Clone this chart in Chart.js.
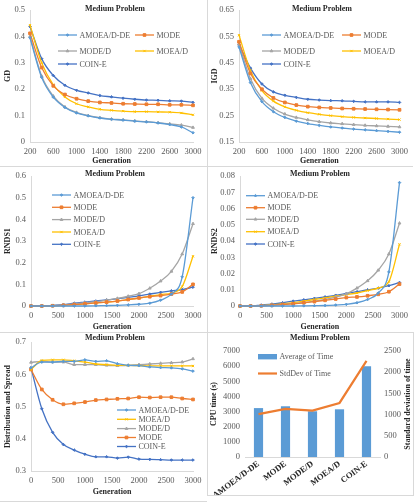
<!DOCTYPE html>
<html>
<head>
<meta charset="utf-8">
<script src="https://cdn.jsdelivr.net/npm/chart.js@4.4.0/dist/chart.umd.min.js"></script>
<style>
  html, body { margin: 0; padding: 0; background: #fff; }
  body { width: 417px; height: 502px; position: relative; overflow: hidden; }
  canvas { position: absolute; display: block; }
  .ln { position: absolute; background: #d9d9d9; }
</style>
</head>
<body>

<canvas id="cGD"    width="207" height="166" style="left:0;top:0"></canvas>
<canvas id="cIGD"   width="206" height="166" style="left:207px;top:0"></canvas>
<canvas id="cR1"    width="207" height="166" style="left:0;top:166px"></canvas>
<canvas id="cR2"    width="206" height="166" style="left:207px;top:166px"></canvas>
<canvas id="cDS"    width="207" height="169" style="left:0;top:332px"></canvas>
<canvas id="cCPU"   width="213" height="163" style="left:200px;top:332px"></canvas>

<div class="ln" style="left:207px;top:0;width:1px;height:495px"></div>
<div class="ln" style="left:0;top:166px;width:413px;height:1px"></div>
<div class="ln" style="left:0;top:332px;width:413px;height:1px"></div>
<div class="ln" style="left:413px;top:332px;width:1px;height:164px"></div>
<div class="ln" style="left:207px;top:495px;width:207px;height:1px"></div>
<div class="ln" style="left:0;top:501px;width:207px;height:1px"></div>

<script>
/* ------------------------------------------------------------
   Data
------------------------------------------------------------ */
var algos = ['AMOEA/D-DE', 'MODE', 'MODE/D', 'MOEA/D', 'COIN-E'];

var gensFrom200 = [200, 400, 600, 800, 1000, 1200, 1400, 1600, 1800, 2000, 2200, 2400, 2600, 2800, 3000];
var gensFrom0   = [0, 200, 400, 600, 800, 1000, 1200, 1400, 1600, 1800, 2000, 2200, 2400, 2600, 2800, 3000];

// GD
var gdAmoea = [0.395, 0.245, 0.170, 0.131, 0.110, 0.099, 0.091, 0.086, 0.083, 0.079, 0.076, 0.072, 0.066, 0.057, 0.035];
var gdMode  = [0.412, 0.282, 0.213, 0.180, 0.164, 0.155, 0.150, 0.148, 0.145, 0.144, 0.143, 0.143, 0.141, 0.141, 0.139];
var gdModeD = [0.400, 0.250, 0.174, 0.133, 0.112, 0.100, 0.092, 0.087, 0.084, 0.080, 0.077, 0.073, 0.069, 0.064, 0.055];
var gdMoead = [0.443, 0.300, 0.217, 0.171, 0.145, 0.133, 0.124, 0.120, 0.117, 0.115, 0.115, 0.114, 0.113, 0.110, 0.103];
var gdCoin  = [0.438, 0.316, 0.252, 0.215, 0.196, 0.186, 0.176, 0.171, 0.166, 0.162, 0.159, 0.158, 0.156, 0.155, 0.150];

// IGD
var igdAmoea = [0.510, 0.375, 0.303, 0.265, 0.243, 0.229, 0.220, 0.213, 0.207, 0.203, 0.199, 0.196, 0.193, 0.190, 0.187];
var igdMode  = [0.530, 0.410, 0.350, 0.317, 0.300, 0.290, 0.284, 0.281, 0.279, 0.277, 0.276, 0.275, 0.274, 0.273, 0.272];
var igdModeD = [0.520, 0.390, 0.315, 0.278, 0.256, 0.243, 0.234, 0.227, 0.222, 0.219, 0.216, 0.213, 0.211, 0.209, 0.207];
var igdMoead = [0.555, 0.420, 0.345, 0.305, 0.283, 0.270, 0.261, 0.255, 0.250, 0.246, 0.243, 0.241, 0.239, 0.237, 0.235];
var igdCoin  = [0.520, 0.430, 0.370, 0.340, 0.327, 0.319, 0.312, 0.309, 0.307, 0.306, 0.304, 0.302, 0.302, 0.302, 0.300];

// RNDS1
var r1Amoea = [0, 0, 0, 0, 0, 0, 0.001, 0.002, 0.003, 0.005, 0.008, 0.013, 0.027, 0.055, 0.135, 0.500];
var r1Mode  = [0, 0, 0.001, 0.003, 0.006, 0.010, 0.014, 0.018, 0.023, 0.030, 0.037, 0.043, 0.048, 0.055, 0.065, 0.100];
var r1ModeD = [0, 0, 0.002, 0.005, 0.010, 0.015, 0.020, 0.027, 0.035, 0.045, 0.057, 0.082, 0.115, 0.160, 0.240, 0.380];
var r1Moead = [0, 0, 0.001, 0.003, 0.006, 0.010, 0.014, 0.018, 0.023, 0.030, 0.037, 0.045, 0.053, 0.060, 0.090, 0.230];
var r1Coin  = [0, 0, 0.003, 0.007, 0.013, 0.018, 0.023, 0.028, 0.033, 0.040, 0.047, 0.055, 0.063, 0.070, 0.076, 0.087];

// RNDS2
var r2Amoea = [0, 0, 0, 0, 0, 0, 0.0001, 0.0002, 0.0003, 0.0006, 0.0010, 0.0020, 0.0040, 0.0080, 0.0210, 0.0760];
var r2Mode  = [0, 0, 0.0001, 0.0004, 0.0008, 0.0013, 0.0020, 0.0027, 0.0035, 0.0043, 0.0052, 0.0056, 0.0063, 0.0072, 0.0088, 0.0135];
var r2ModeD = [0, 0, 0.0002, 0.0006, 0.0010, 0.0015, 0.0020, 0.0030, 0.0040, 0.0055, 0.0075, 0.0110, 0.0155, 0.0220, 0.0320, 0.0510];
var r2Moead = [0, 0, 0.0002, 0.0007, 0.0013, 0.0020, 0.0030, 0.0040, 0.0050, 0.0060, 0.0070, 0.0080, 0.0095, 0.0110, 0.0150, 0.0380];
var r2Coin  = [0, 0, 0.0006, 0.0012, 0.0020, 0.0030, 0.0038, 0.0047, 0.0056, 0.0066, 0.0077, 0.0088, 0.0100, 0.0110, 0.0125, 0.0145];

// Distribution and Spread
var dsAmoea = [0.620, 0.638, 0.638, 0.640, 0.640, 0.645, 0.640, 0.642, 0.633, 0.628, 0.627, 0.623, 0.621, 0.620, 0.617, 0.610];
var dsMoead = [0.615, 0.643, 0.645, 0.645, 0.642, 0.638, 0.632, 0.630, 0.628, 0.628, 0.627, 0.626, 0.626, 0.626, 0.626, 0.626];
var dsModeD = [0.637, 0.640, 0.638, 0.638, 0.630, 0.630, 0.630, 0.628, 0.627, 0.628, 0.630, 0.632, 0.634, 0.636, 0.638, 0.648];
var dsMode  = [0.615, 0.553, 0.521, 0.507, 0.510, 0.514, 0.520, 0.522, 0.524, 0.525, 0.529, 0.528, 0.529, 0.529, 0.525, 0.522];
var dsCoin  = [0.620, 0.493, 0.420, 0.382, 0.365, 0.352, 0.344, 0.344, 0.340, 0.343, 0.337, 0.336, 0.335, 0.334, 0.334, 0.334];

// CPU time
var cpuAvg = [3230, 3350, 3020, 3150, 5990];
var cpuStd = [1010, 1135, 1095, 1275, 2265];


/* ------------------------------------------------------------
   Shared styles
------------------------------------------------------------ */
var FONT  = '"Liberation Serif", "Times New Roman", serif';
var TEXT  = '#595959';
var DARK  = '#262626';
var AXIS  = '#d9d9d9';

var SERIES = {
  'AMOEA/D-DE': { color: '#5B9BD5', pointStyle: 'rectRot',  r: 1.3 },
  'MODE':       { color: '#ED7D31', pointStyle: 'rect',     r: 1.9 },
  'MODE/D':     { color: '#A5A5A5', pointStyle: 'triangle', r: 1.6 },
  'MOEA/D':     { color: '#FFC000', pointStyle: 'crossRot', r: 1.6 },
  'COIN-E':     { color: '#4472C4', pointStyle: 'rectRot',  r: 1.3 }
};

function pts(xs, ys) {
  return ys.map(function (y, i) { return { x: xs[i], y: y }; });
}

function lineSet(name, xs, ys) {
  var s = SERIES[name];
  return {
    label: name,
    data: pts(xs, ys),
    borderColor: s.color,
    backgroundColor: s.color,
    borderWidth: 1.3,
    pointStyle: s.pointStyle,
    pointRadius: s.r,
    pointBorderWidth: 1,
    pointBorderColor: s.color,
    pointBackgroundColor: s.color,
    cubicInterpolationMode: 'monotone',
    clip: false
  };
}


/* ------------------------------------------------------------
   Overlay plugin: panel title, in-plot legend, right title
------------------------------------------------------------ */
var overlay = {
  id: 'overlay',
  afterDraw: function (chart, args, opts) {
    var ctx = chart.ctx;
    ctx.save();
    ctx.textBaseline = 'middle';

    if (opts.title) {
      ctx.font = 'bold 8px ' + FONT;
      ctx.fillStyle = DARK;
      ctx.textAlign = 'center';
      ctx.fillText('Medium Problem', opts.title.x, opts.title.y);
    }

    (opts.legend || []).forEach(function (it) {
      var ds = chart.data.datasets[it.i];
      var x2 = it.x + 19;
      if (ds.type === 'bar') {
        ctx.fillStyle = ds.backgroundColor;
        ctx.fillRect(it.x, it.y - 2.7, 19, 5.4);
      } else {
        ctx.strokeStyle = ds.borderColor;
        ctx.lineWidth = ds.borderWidth;
        ctx.beginPath();
        ctx.moveTo(it.x, it.y);
        ctx.lineTo(x2, it.y);
        ctx.stroke();
        if (ds.pointRadius) {
          ctx.fillStyle = ds.borderColor;
          ctx.lineWidth = 1;
          Chart.helpers.drawPoint(ctx, {
            pointStyle: ds.pointStyle, radius: ds.pointRadius,
            rotation: 0, borderWidth: 1
          }, (it.x + x2) / 2, it.y);
        }
      }
      ctx.font = '8px ' + FONT;
      ctx.fillStyle = TEXT;
      ctx.textAlign = 'left';
      ctx.fillText(ds.label, x2 + 2.5, it.y + 0.5);
    });

    if (opts.sideTitle) {
      ctx.font = 'bold 8px ' + FONT;
      ctx.fillStyle = DARK;
      ctx.textAlign = 'center';
      ctx.translate(opts.sideTitle.x, opts.sideTitle.y);
      ctx.rotate(-Math.PI / 2);
      ctx.fillText(opts.sideTitle.text, 0, 0);
    }
    ctx.restore();
  }
};
Chart.register(overlay);


/* ------------------------------------------------------------
   Line panel
   box: canvas w/h and plot edges L,T,R,B (canvas coords)
------------------------------------------------------------ */
function renderLine(id, box, cfg) {
  new Chart(document.getElementById(id), {
    type: 'line',
    data: { datasets: cfg.datasets },
    options: {
      responsive: false,
      animation: false,
      layout: { padding: { left: 0, top: box.T, right: box.w - box.R, bottom: 0 } },
      plugins: {
        legend: { display: false },
        tooltip: { enabled: false },
        overlay: { title: cfg.title, legend: cfg.legend }
      },
      scales: {
        x: {
          type: 'linear',
          min: cfg.xMin, max: 3000,
          ticks: {
            stepSize: cfg.xStep, autoSkip: false, maxRotation: 0, padding: 5,
            color: TEXT, font: { family: FONT, size: 8.5 },
            callback: function (v) { return String(v); }
          },
          grid: { display: false, drawTicks: false },
          border: { color: AXIS },
          title: {
            display: true, text: 'Generation', color: DARK,
            font: { family: FONT, size: 8, weight: 'bold' },
            padding: { top: 0, bottom: cfg.xtPad || 0 }
          },
          afterFit: function (s) { s.height = box.h - box.B; }
        },
        y: {
          min: cfg.yMin, max: cfg.yMax,
          ticks: {
            stepSize: cfg.yStep, padding: 5, color: TEXT,
            font: { family: FONT, size: 8.5 },
            callback: cfg.yFmt
          },
          grid: { display: false, drawTicks: false },
          border: { color: AXIS },
          title: {
            display: true, text: cfg.yTitle, color: DARK,
            font: { family: FONT, size: 8, weight: 'bold' },
            padding: { top: 3, bottom: 0 }
          },
          afterFit: function (s) { s.width = box.L; }
        }
      }
    }
  });
}

function fmt(d) {
  return function (v) { return Math.abs(v) < 1e-9 ? '0' : v.toFixed(d); };
}

function twoCol(y1, y2, y3, c1, c2) {
  return [
    { i: 0, x: c1, y: y1 }, { i: 1, x: c2, y: y1 },
    { i: 2, x: c1, y: y2 }, { i: 3, x: c2, y: y2 },
    { i: 4, x: c1, y: y3 }
  ];
}

function oneCol(x, ys) {
  return ys.map(function (y, i) { return { i: i, x: x, y: y }; });
}


/* 1. GD */
renderLine('cGD', { w: 207, h: 166, L: 30, T: 7, R: 193, B: 142 }, {
  datasets: [
    lineSet(algos[0], gensFrom200, gdAmoea),
    lineSet(algos[1], gensFrom200, gdMode),
    lineSet(algos[2], gensFrom200, gdModeD),
    lineSet(algos[3], gensFrom200, gdMoead),
    lineSet(algos[4], gensFrom200, gdCoin)
  ],
  xMin: 200, xStep: 400,
  yMin: 0, yMax: 0.5, yStep: 0.1, yFmt: fmt(1), yTitle: 'GD',
  title: { x: 115, y: 9 },
  legend: twoCol(35, 51, 64, 58, 135)
});

/* 2. IGD */
renderLine('cIGD', { w: 206, h: 166, L: 32, T: 7, R: 193, B: 142 }, {
  datasets: [
    lineSet(algos[0], gensFrom200, igdAmoea),
    lineSet(algos[1], gensFrom200, igdMode),
    lineSet(algos[2], gensFrom200, igdModeD),
    lineSet(algos[3], gensFrom200, igdMoead),
    lineSet(algos[4], gensFrom200, igdCoin)
  ],
  xMin: 200, xStep: 400,
  yMin: 0.15, yMax: 0.65, yStep: 0.1, yFmt: fmt(2), yTitle: 'IGD',
  title: { x: 115, y: 9 },
  legend: twoCol(35, 51, 64, 55, 135)
});

/* 3. RNDS1 */
renderLine('cR1', { w: 207, h: 166, L: 31, T: 6, R: 193, B: 140 }, {
  datasets: [
    lineSet(algos[0], gensFrom0, r1Amoea),
    lineSet(algos[1], gensFrom0, r1Mode),
    lineSet(algos[2], gensFrom0, r1ModeD),
    lineSet(algos[3], gensFrom0, r1Moead),
    lineSet(algos[4], gensFrom0, r1Coin)
  ],
  xMin: 0, xStep: 500,
  yMin: 0, yMax: 0.6, yStep: 0.1, yFmt: fmt(1), yTitle: 'RNDS1',
  title: { x: 115, y: 8 },
  legend: oneCol(52, [29, 41.3, 53.6, 66, 78.3])
});

/* 4. RNDS2 */
renderLine('cR2', { w: 206, h: 166, L: 33, T: 6, R: 193, B: 140 }, {
  datasets: [
    lineSet(algos[0], gensFrom0, r2Amoea),
    lineSet(algos[1], gensFrom0, r2Mode),
    lineSet(algos[2], gensFrom0, r2ModeD),
    lineSet(algos[3], gensFrom0, r2Moead),
    lineSet(algos[4], gensFrom0, r2Coin)
  ],
  xMin: 0, xStep: 500,
  yMin: 0, yMax: 0.08, yStep: 0.01, yFmt: fmt(2), yTitle: 'RNDS2',
  title: { x: 113, y: 8 },
  legend: oneCol(39, [29.7, 41.7, 53.3, 65.7, 78])
});

/* 5. Distribution and Spread (legend order differs) */
renderLine('cDS', { w: 207, h: 169, L: 31, T: 5, R: 193, B: 139 }, {
  datasets: [
    lineSet('AMOEA/D-DE', gensFrom0, dsAmoea),
    lineSet('MOEA/D',     gensFrom0, dsMoead),
    lineSet('MODE/D',     gensFrom0, dsModeD),
    lineSet('MODE',       gensFrom0, dsMode),
    lineSet('COIN-E',     gensFrom0, dsCoin)
  ],
  xMin: 0, xStep: 500, xtPad: 4,
  yMin: 0.3, yMax: 0.7, yStep: 0.1, yFmt: fmt(1), yTitle: 'Distribution and Spread',
  title: { x: 115, y: 6 },
  legend: oneCol(117, [78, 87.3, 96.6, 105.5, 114.5])
});


/* 6. CPU time — bars + std-dev line on a second axis
   canvas starts at x=200 so the first rotated label has room */
new Chart(document.getElementById('cCPU'), {
  data: {
    labels: algos,
    datasets: [
      {
        type: 'bar', label: 'Average of Time', data: cpuAvg,
        backgroundColor: '#5B9BD5', yAxisID: 'y',
        barPercentage: 0.34, categoryPercentage: 1, order: 2
      },
      {
        type: 'line', label: 'StdDev of Time', data: cpuStd,
        borderColor: '#ED7D31', backgroundColor: '#ED7D31', borderWidth: 2.2,
        pointRadius: 0, tension: 0, yAxisID: 'y1', order: 1
      }
    ]
  },
  options: {
    responsive: false,
    animation: false,
    layout: { padding: { left: 0, top: 19, right: 0, bottom: 0 } },
    plugins: {
      legend: { display: false },
      tooltip: { enabled: false },
      overlay: {
        title: { x: 120, y: 6 },
        legend: [{ i: 0, x: 58, y: 24.7 }, { i: 1, x: 58, y: 41.5 }],
        sideTitle: { text: 'Standard deviation of time', x: 208, y: 72 }
      }
    },
    scales: {
      x: {
        offset: true,
        ticks: {
          autoSkip: false, minRotation: 37, maxRotation: 37, padding: 2,
          color: DARK, font: { family: FONT, size: 8.5, weight: 'bold' }
        },
        grid: { display: false, drawTicks: false },
        border: { color: AXIS },
        afterFit: function (s) { s.height = 163 - 125; }
      },
      y: {
        min: 0, max: 7000,
        ticks: {
          stepSize: 1000, padding: 5, color: TEXT, font: { family: FONT, size: 8.5 },
          callback: function (v) { return String(v); }
        },
        grid: { display: false, drawTicks: false },
        border: { display: false },
        title: {
          display: true, text: 'CPU time (s)', color: DARK,
          font: { family: FONT, size: 8, weight: 'bold' },
          padding: { top: 9, bottom: 0 }
        },
        afterFit: function (s) { s.width = 45; }
      },
      y1: {
        position: 'right',
        min: 0, max: 2500,
        ticks: {
          stepSize: 500, padding: 4, color: TEXT, font: { family: FONT, size: 8.5 },
          callback: function (v) { return String(v); }
        },
        grid: { display: false, drawTicks: false },
        border: { display: false },
        afterFit: function (s) { s.width = 33; }
      }
    }
  }
});
</script>
</body>
</html>
